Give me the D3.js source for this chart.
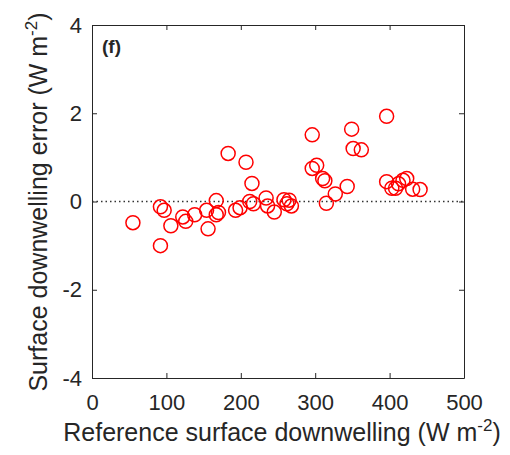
<!DOCTYPE html>
<html>
<head>
<meta charset="utf-8">
<script src="https://cdn.jsdelivr.net/npm/d3@7"></script>
<style>
  body { margin: 0; background: #fff; }
  text { font-family: "Liberation Sans", Arial, sans-serif; fill: #262626; }
</style>
</head>
<body>
<svg id="chart" width="510" height="455"></svg>
<script>
// reference values (W m-2)
const refValues = [55, 92, 92, 97, 106, 122, 126, 138, 154, 156, 167, 167, 170, 183, 193, 199,
  207, 212, 215, 217, 234, 236, 245, 258, 262, 265, 268, 296, 296, 302, 310, 313, 315, 327,
  343, 349, 351, 362, 396, 396, 403, 408, 412, 418, 423, 431, 441];
// error values (W m-2)
const errValues = [-0.48, -1.0, -0.12, -0.2, -0.55, -0.35, -0.45, -0.3, -0.2, -0.62, 0.02, -0.3, -0.25, 1.09, -0.2, -0.14,
  0.89, 0.0, 0.41, -0.05, 0.08, -0.1, -0.24, 0.04, -0.05, 0.03, -0.1, 1.51, 0.75, 0.82, 0.52, 0.47, -0.04, 0.17,
  0.34, 1.64, 1.2, 1.17, 1.93, 0.45, 0.3, 0.3, 0.4, 0.48, 0.52, 0.28, 0.27];
const xTicks = [0, 100, 200, 300, 400, 500];
const yTicks = [-4, -2, 0, 2, 4];

const margin = {top: 25, right: 46, bottom: 77, left: 92};
const svg = d3.select('#chart');
const width = +svg.attr('width') - margin.left - margin.right;
const height = +svg.attr('height') - margin.top - margin.bottom;

const g = svg.append('g').attr('transform', `translate(${margin.left},${margin.top})`);

const xScale = d3.scaleLinear().domain([0, 500]).range([0, width]);
const yScale = d3.scaleLinear().domain([-4, 4]).range([height, 0]);

// plain hyphen for negatives, like the original
const plain = d => String(d);

// zero line
g.append('line')
  .attr('x1', 0).attr('x2', width)
  .attr('y1', yScale(0)).attr('y2', yScale(0))
  .attr('stroke', '#333').attr('stroke-width', 1.3)
  .attr('stroke-dasharray', '1.5,3');

// axes, ticks point inwards
function styleAxis(sel, hideText) {
  sel.select('.domain').attr('stroke', '#262626');
  sel.selectAll('.tick line').attr('stroke', '#262626');
  sel.selectAll('.tick text').style('font-size', '22px').attr('fill', '#262626');
  if (hideText) sel.selectAll('.tick text').remove();
}

g.append('g')
  .attr('transform', `translate(0,${height})`)
  .call(d3.axisBottom(xScale).tickValues(xTicks).tickFormat(plain).tickSizeInner(-5).tickSizeOuter(0).tickPadding(16))
  .call(s => styleAxis(s, false));

g.append('g')
  .call(d3.axisTop(xScale).tickValues(xTicks).tickSizeInner(-5).tickSizeOuter(0))
  .call(s => styleAxis(s, true));

g.append('g')
  .call(d3.axisLeft(yScale).tickValues(yTicks).tickFormat(plain).tickSizeInner(-5).tickSizeOuter(0).tickPadding(10))
  .call(s => styleAxis(s, false));

g.append('g')
  .attr('transform', `translate(${width},0)`)
  .call(d3.axisRight(yScale).tickValues(yTicks).tickSizeInner(-5).tickSizeOuter(0))
  .call(s => styleAxis(s, true));

// points
g.selectAll('circle.pt')
  .data(refValues.map((x, i) => ({x: x, y: errValues[i]})))
  .enter().append('circle')
    .attr('class', 'pt')
    .attr('cx', d => xScale(d.x))
    .attr('cy', d => yScale(d.y))
    .attr('r', 7)
    .attr('fill', 'none')
    .attr('stroke', '#ff0000')
    .attr('stroke-width', 1.5);

// panel label
g.append('text')
  .attr('x', 10).attr('y', 28)
  .style('font-size', '19px').style('font-weight', 'bold')
  .text('(f)');

// x title
const xt = svg.append('text')
  .attr('x', margin.left + width / 2 + 4).attr('y', 441)
  .attr('text-anchor', 'middle')
  .style('font-size', '25px');
xt.append('tspan').text('Reference surface downwelling (W m');
xt.append('tspan').attr('dy', -10).style('font-size', '17px').text('-2');
xt.append('tspan').attr('dy', 10).text(')');

// y title
const yt = svg.append('text')
  .attr('transform', `translate(47,202) rotate(-90)`)
  .attr('text-anchor', 'middle')
  .style('font-size', '25px');
yt.append('tspan').text('Surface downwelling error (W m');
yt.append('tspan').attr('dy', -10).style('font-size', '17px').text('-2');
yt.append('tspan').attr('dy', 10).text(')');
</script>
</body>
</html>
